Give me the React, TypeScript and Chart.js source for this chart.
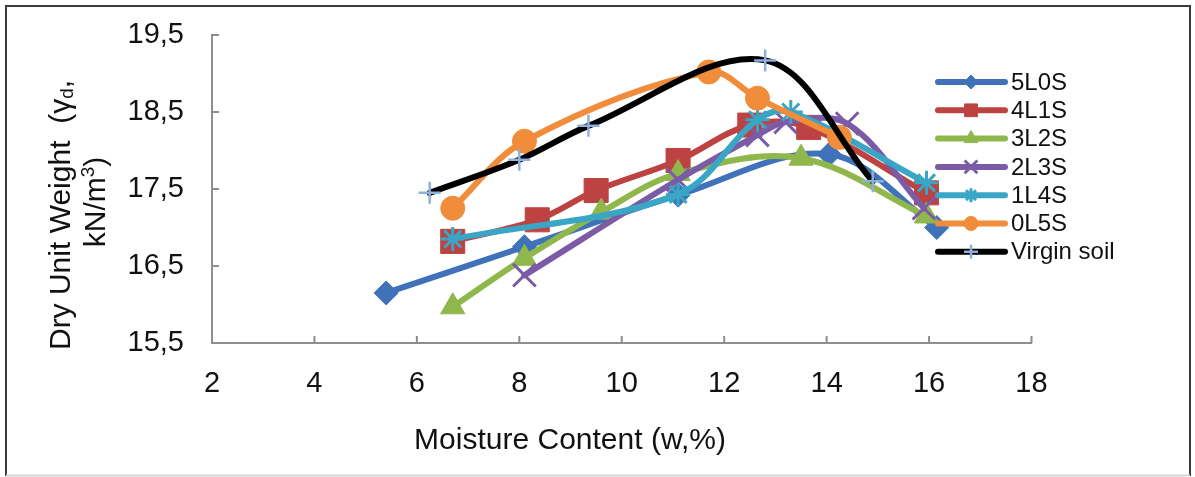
import React, { useEffect, useRef } from 'react';
import { Chart, registerables } from 'chart.js';
import { drawPoint } from 'chart.js/helpers';

Chart.register(...registerables);

// ---- data (moisture content w %, dry unit weight kN/m3) ----
const seriesNames = ['5L0S', '4L1S', '3L2S', '2L3S', '1L4S', '0L5S', 'Virgin soil'];

const w5L0S = [5.4, 8.1, 11.1, 14.05, 16.15];
const g5L0S = [16.15, 16.75, 17.42, 17.95, 17.0];

const w4L1S = [6.7, 8.35, 9.5, 11.1, 12.5, 13.65, 15.95];
const g4L1S = [16.82, 17.1, 17.48, 17.87, 18.33, 18.3, 17.45];

const w3L2S = [6.7, 8.1, 9.6, 11.1, 13.5, 15.95];
const g3L2S = [15.97, 16.6, 17.2, 17.7, 17.9, 17.15];

const w2L3S = [8.1, 11.1, 12.65, 13.2, 14.4, 15.9];
const g2L3S = [16.38, 17.62, 18.2, 18.37, 18.35, 17.25];

const w1L4S = [6.7, 11.1, 12.65, 13.3, 15.95];
const g1L4S = [16.85, 17.43, 18.4, 18.5, 17.58];

const w0L5S = [6.7, 8.1, 11.7, 12.65, 14.25];
const g0L5S = [17.25, 18.12, 19.02, 18.68, 18.17];

const wVirgin = [6.25, 8.0, 9.35, 12.8, 14.9];
const gVirgin = [17.45, 17.88, 18.32, 19.17, 17.6];

const xTicks = [2, 4, 6, 8, 10, 12, 14, 16, 18];
const yTicks = [15.5, 16.5, 17.5, 18.5, 19.5];

const xTitle = 'Moisture Content (w,%)';

const FONT = "'Liberation Sans', Arial, sans-serif";

const seriesX = [w5L0S, w4L1S, w3L2S, w2L3S, w1L4S, w0L5S, wVirgin];
const seriesY = [g5L0S, g4L1S, g3L2S, g2L3S, g1L4S, g0L5S, gVirgin];

const lineColors = ['#3f72b8', '#bc4341', '#8fb74c', '#7c5ba6', '#3aa6c6', '#f08c3a', '#000000'];
const markerFill = ['#3f72b8', '#bc4341', '#8fb74c', 'rgba(0,0,0,0)', 'rgba(0,0,0,0)', '#f08c3a', 'rgba(0,0,0,0)'];
const markerStroke = ['#3f72b8', '#bc4341', '#8fb74c', '#7c5ba6', '#3aa6c6', '#f08c3a', '#8db0dd'];
const markerStyles = ['rectRot', 'rect', 'triangle', 'crossRot', 'star', 'circle', 'cross'];
const markerRadius = [12, 17, 14, 16, 12, 12, 11];
const markerBorder = [1, 1, 1, 3, 3, 1, 2.5];
const legendRadius = [7, 9, 8, 9, 7, 7, 7];

const decorPlugin = {
  id: 'decor',
  beforeDraw(chart: any) {
    const ctx = chart.ctx;
    ctx.save();
    ctx.fillStyle = '#ffffff';
    ctx.fillRect(0, 0, chart.width, chart.height);
    ctx.lineWidth = 2;
    ctx.strokeStyle = '#3c3c3c';
    ctx.beginPath();
    ctx.moveTo(6, 476);
    ctx.lineTo(6, 6);
    ctx.lineTo(1190, 6);
    ctx.lineTo(1190, 476);
    ctx.stroke();
    ctx.strokeStyle = '#d4d4d4';
    ctx.beginPath();
    ctx.moveTo(6, 475.5);
    ctx.lineTo(1190, 475.5);
    ctx.stroke();
    ctx.restore();
  },
  beforeDatasetsDraw(chart: any) {
    const ctx = chart.ctx;
    const xs = chart.scales.x;
    const ys = chart.scales.y;
    const area = chart.chartArea;
    ctx.save();
    ctx.strokeStyle = '#8e8e8e';
    ctx.lineWidth = 2;
    ctx.beginPath();
    xTicks.forEach((v) => {
      const px = xs.getPixelForValue(v);
      ctx.moveTo(px, area.bottom);
      ctx.lineTo(px, area.bottom - 7);
    });
    yTicks.forEach((v) => {
      const py = ys.getPixelForValue(v);
      ctx.moveTo(area.left, py);
      ctx.lineTo(area.left + 7, py);
    });
    ctx.stroke();
    ctx.restore();
  },
  afterDraw(chart: any) {
    const ctx = chart.ctx;
    ctx.save();
    ctx.fillStyle = '#111111';
    // x title
    ctx.font = `30px ${FONT}`;
    ctx.textAlign = 'center';
    ctx.textBaseline = 'middle';
    ctx.fillText(xTitle, 570, 441);

    // y title, two rotated lines
    const big = `30px ${FONT}`;
    const small = `19px ${FONT}`;
    ctx.save();
    ctx.translate(62, 215);
    ctx.rotate(-Math.PI / 2);
    const parts1: [string, string, number][] = [
      ['Dry Unit Weight  (\u03b3', big, 0],
      ['d', small, 6],
      [',', big, 0],
    ];
    let total = 0;
    parts1.forEach(([t, f]) => {
      ctx.font = f;
      total += ctx.measureText(t).width;
    });
    let cx = -total / 2;
    ctx.textAlign = 'left';
    parts1.forEach(([t, f, dy]) => {
      ctx.font = f;
      ctx.fillText(t, cx, dy);
      cx += ctx.measureText(t).width;
    });
    ctx.restore();

    ctx.save();
    ctx.translate(97, 202);
    ctx.rotate(-Math.PI / 2);
    const parts2: [string, string, number][] = [
      ['kN/m', big, 0],
      ['3', small, -8],
      [')', big, 0],
    ];
    total = 0;
    parts2.forEach(([t, f]) => {
      ctx.font = f;
      total += ctx.measureText(t).width;
    });
    cx = -total / 2;
    ctx.textAlign = 'left';
    parts2.forEach(([t, f, dy]) => {
      ctx.font = f;
      ctx.fillText(t, cx, dy);
      cx += ctx.measureText(t).width;
    });
    ctx.restore();

    // legend
    const top = 82;
    const step = 28.3;
    seriesNames.forEach((name, i) => {
      const y = top + i * step;
      ctx.strokeStyle = lineColors[i];
      ctx.lineWidth = 6;
      ctx.lineCap = 'round';
      ctx.beginPath();
      ctx.moveTo(938, y);
      ctx.lineTo(1005, y);
      ctx.stroke();
      ctx.fillStyle = markerFill[i];
      ctx.strokeStyle = markerStroke[i];
      ctx.lineWidth = markerBorder[i];
      ctx.lineCap = 'butt';
      drawPoint(ctx, { pointStyle: markerStyles[i], radius: legendRadius[i], rotation: 0, borderWidth: markerBorder[i] } as any, 971, y);
      ctx.fillStyle = '#111111';
      ctx.font = `24px ${FONT}`;
      ctx.textAlign = 'left';
      ctx.textBaseline = 'middle';
      ctx.fillText(name, 1011, y + 1);
    });
    ctx.restore();
  },
};

export default function App() {
  const canvasRef = useRef<HTMLCanvasElement | null>(null);

  useEffect(() => {
    if (!canvasRef.current) return;
    const n = seriesNames.length;
    const datasets = seriesNames.map((name, i) => ({
      label: name,
      data: seriesX[i].map((x, j) => ({ x, y: seriesY[i][j] })),
      showLine: true,
      borderColor: lineColors[i],
      borderWidth: 6,
      borderCapStyle: 'round',
      borderJoinStyle: 'round',
      tension: 0.35,
      pointStyle: markerStyles[i],
      pointRadius: markerRadius[i],
      pointBackgroundColor: markerFill[i],
      pointBorderColor: markerStroke[i],
      pointBorderWidth: markerBorder[i],
      order: n - 1 - i,
    }));

    const chart = new Chart(canvasRef.current, {
      type: 'scatter',
      data: { datasets: datasets as any },
      options: {
        animation: false,
        responsive: false,
        devicePixelRatio: 1,
        layout: { padding: { left: 0, right: 163.5, top: 35, bottom: 0 } },
        plugins: { legend: { display: false }, tooltip: { enabled: false } },
        scales: {
          x: {
            type: 'linear',
            min: 2,
            max: 18,
            afterBuildTicks: (s: any) => {
              s.ticks = xTicks.map((v) => ({ value: v }));
            },
            afterFit: (s: any) => {
              s.height = 134;
              s.paddingLeft = 0;
              s.paddingRight = 0;
            },
            grid: { display: false, drawTicks: false },
            border: { display: true, color: '#8e8e8e', width: 2 },
            ticks: {
              autoSkip: false,
              maxRotation: 0,
              padding: 24,
              color: '#111111',
              font: { family: FONT, size: 29 },
              callback: (v: any) => String(v),
            },
          },
          y: {
            type: 'linear',
            min: 15.5,
            max: 19.5,
            afterBuildTicks: (s: any) => {
              s.ticks = yTicks.map((v) => ({ value: v }));
            },
            afterFit: (s: any) => {
              s.width = 212;
              s.paddingTop = 0;
              s.paddingBottom = 0;
            },
            grid: { display: false, drawTicks: false },
            border: { display: true, color: '#8e8e8e', width: 2 },
            ticks: {
              autoSkip: false,
              padding: 28,
              color: '#111111',
              font: { family: FONT, size: 29 },
              callback: (v: any) => Number(v).toFixed(1).replace('.', ','),
            },
          },
        },
      },
      plugins: [decorPlugin],
    });
    return () => chart.destroy();
  }, []);

  return (
    <div style={{ position: 'fixed', left: 0, top: 0, width: 1195, height: 477, background: '#fff' }}>
      <canvas ref={canvasRef} width={1195} height={477} style={{ display: 'block', width: 1195, height: 477 }} />
    </div>
  );
}
